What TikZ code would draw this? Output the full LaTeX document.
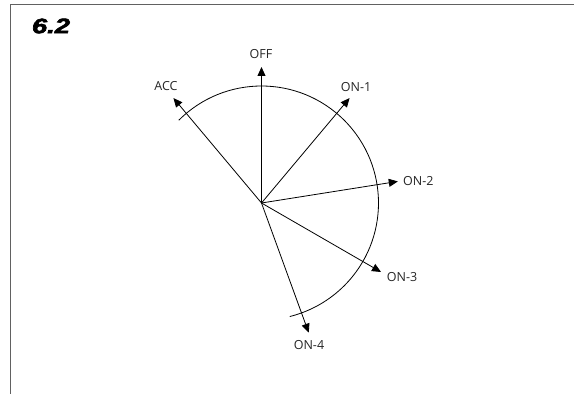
\documentclass[tikz,border=0pt]{standalone}
\usepackage{fontspec}
\setmainfont{Open Sans}
\newfontfamily\titlefont{Liberation Sans}[BoldItalicFeatures={FakeBold=2.5}]
\usepackage{tikz}
\usetikzlibrary{arrows.meta,calc}

\begin{document}
\begin{tikzpicture}[
  x=1pt, y=1pt,
  frame/.style={draw=black!62, line width=1.3pt},
  ray/.style={-{Triangle[length=9pt, width=8pt]}, line width=0.8pt},
  sweep/.style={line width=0.8pt},
  lbl/.style={font=\fontsize{12.5}{14}\selectfont, inner sep=0pt, text=black!85},
  ttl/.style={font=\titlefont\bfseries\itshape\fontsize{21}{24}\selectfont, inner sep=0pt, xscale=1.3}
]
\useasboundingbox (0,0) rectangle (574,394);
\draw[frame] (10.7,0) -- (10.7,389.3) -- (574,389.3);
\node[ttl] (title) at (51,368) {6.2};
% key positions
\coordinate (hub) at (261.5,191);
\coordinate (acc) at ($(hub)+(130:137)$);
\coordinate (off) at ($(hub)+(90:136)$);
\coordinate (on1) at ($(hub)+(50:137)$);
\coordinate (on2) at ($(hub)+(9:138)$);
\coordinate (on3) at ($(hub)+(-30:138)$);
\coordinate (on4) at ($(hub)+(-70:138)$);
\draw[sweep] (hub) ++(135:117) arc[start angle=135, end angle=-76, radius=117];
\draw[ray] (hub)--(acc);
\draw[ray] (hub)--(off);
\draw[ray] (hub)--(on1);
\draw[ray] (hub)--(on2);
\draw[ray] (hub)--(on3);
\draw[ray] (hub)--(on4);
\node[lbl] (accl) at (166,307.5) {ACC};
\node[lbl] (offl) at (261,340) {OFF};
\node[lbl] (on1l) at (356,307) {ON-1};
\node[lbl, anchor=west] (on2l) at (403,213) {ON-2};
\node[lbl] (on3l) at (402,117) {ON-3};
\node[lbl] (on4l) at (309,49) {ON-4};
\end{tikzpicture}
\end{document}
